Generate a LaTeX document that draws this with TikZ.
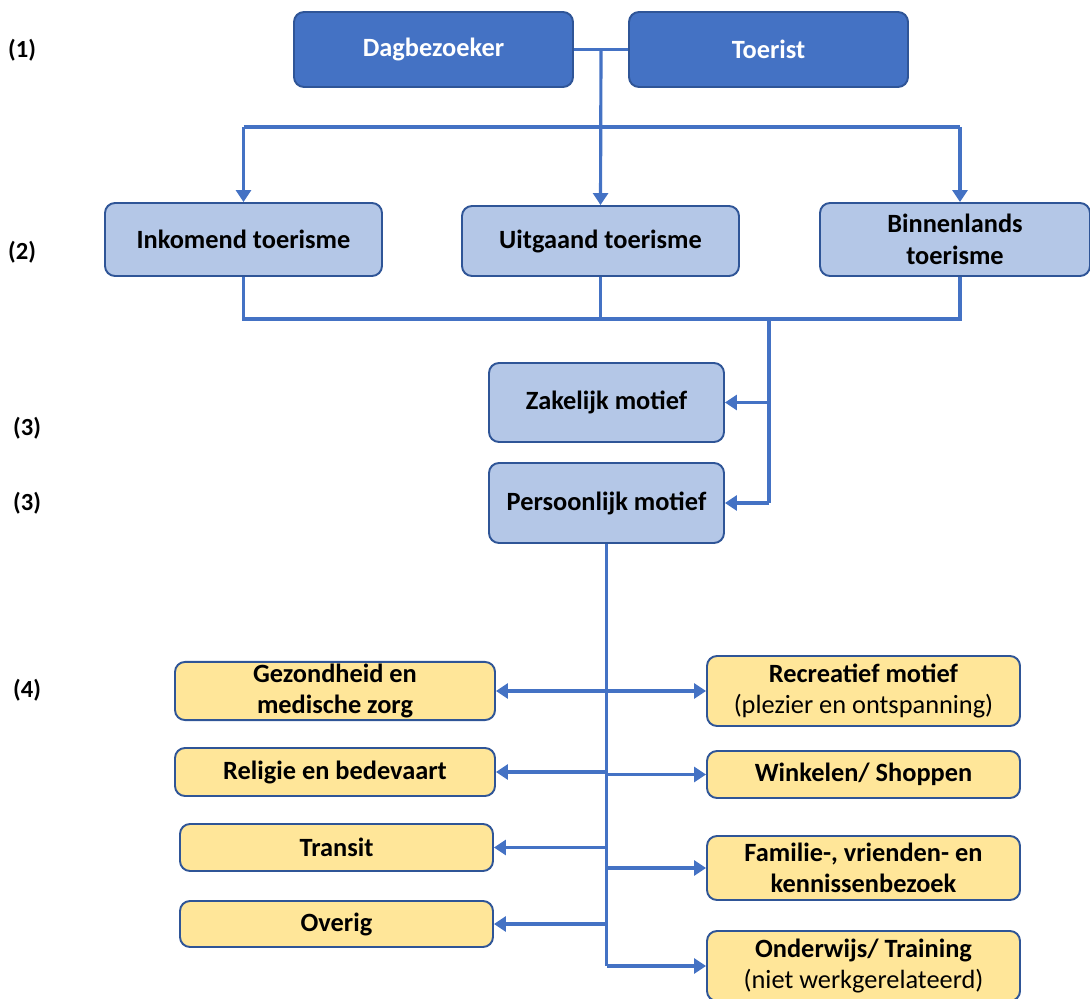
\documentclass[tikz,border=0pt]{standalone}
\usepackage{fontspec}
\setmainfont{Carlito}
\usetikzlibrary{arrows.meta,positioning}

\definecolor{topfill}{HTML}{4472C4}
\definecolor{midfill}{HTML}{B4C7E7}
\definecolor{lowfill}{HTML}{FFE699}
\definecolor{rim}{HTML}{2F5597}
\definecolor{wire}{HTML}{4472C4}

\begin{document}
\begin{tikzpicture}[x=0.2mm,y=-0.2mm,
  box/.style={draw=rim,line width=1.1pt,rounded corners=2mm,align=center,
    font=\fontsize{15}{18}\selectfont\bfseries,inner sep=1pt},
  topbox/.style={box,fill=topfill,text=white,minimum width=55.8mm,minimum height=15mm},
  midbox/.style={box,fill=midfill,minimum height=14.6mm},
  lowbox/.style={box,fill=lowfill,minimum width=62.6mm},
  level/.style={font=\fontsize{14}{16}\selectfont\bfseries},
  link/.style={draw=wire,line width=1.8pt},
  arrow/.style={link,-{Triangle[width=3mm,length=2.4mm]}}]
\useasboundingbox (0,0) rectangle (1090,999);

% level 1
\node[topbox] (dag) at (433.5,49.5) {Dagbezoeker};
\node[topbox] (toer) at (768.5,49.5) {Toerist};

% level 2
\node[midbox,minimum width=55.4mm] (ink) at (243.5,239.5) {Inkomend toerisme};
\node[midbox,minimum width=55.4mm,minimum height=14mm] (uit) at (600.5,241) {Uitgaand toerisme};
\node[midbox,minimum width=54mm] (bin) at (955,239.5) {Binnenlands\\toerisme};

% level 3
\node[midbox,minimum width=47mm,minimum height=15.8mm] (zak) at (606.5,402.5) {Zakelijk motief};
\node[midbox,minimum width=47mm,minimum height=16mm] (pers) at (606.5,503) {Persoonlijk motief};

% level 4, left
\node[lowbox,minimum width=64mm,minimum height=11.6mm] (gez) at (335,691) {Gezondheid en\\medische zorg};
\node[lowbox,minimum width=64mm,minimum height=9.6mm] (rel) at (335,772) {Religie en bedevaart};
\node[lowbox,minimum height=9.4mm] (tra) at (336.5,847.5) {Transit};
\node[lowbox,minimum height=9.2mm] (ove) at (336.5,924) {Overig};

% level 4, right
\node[lowbox,minimum height=14mm] (rec) at (863.5,691) {Recreatief motief\\\mdseries(plezier en ontspanning)};
\node[lowbox,minimum height=9.4mm] (win) at (863.5,774.5) {Winkelen/ Shoppen};
\node[lowbox,minimum height=12.8mm] (fam) at (863.5,868) {Familie-, vrienden- en\\kennissenbezoek};
\node[lowbox,minimum height=14mm] (ond) at (863.5,966) {Onderwijs/ Training\\\mdseries(niet werkgerelateerd)};

% level labels
\node[level] (l1) at (22,50) {(1)};
\node[level] (l2) at (22,252) {(2)};
\node[level] (l3a) at (27,428) {(3)};
\node[level] (l3b) at (27,503) {(3)};
\node[level] (l4) at (27,690) {(4)};

% connectors top
\coordinate (join) at (601,50);
\coordinate (bus) at (601,127);
\coordinate (binx) at (960,127);
\coordinate (bus2) at (769,319);
\path[link] (dag.east) -- (toer.west);
\draw[arrow] (join) -- (uit.north);
\path[link] (ink.north |- bus) -- (binx);
\draw[arrow] (ink.north |- bus) -- (ink.north);
\draw[arrow] (binx) -- (binx |- bin.north);

% connectors middle
\path[link] (ink.south) -- (ink.south |- bus2) -- (binx |- bus2) -- (binx |- bin.south);
\path[link] (uit.south) -- (uit.south |- bus2);
\path[link] (bus2) -- (bus2 |- pers.east);
\draw[arrow] (bus2 |- zak.east) -- (zak.east);
\draw[arrow] (bus2 |- pers.east) -- (pers.east);

% connectors bottom
\path[link] (pers.south) -- (pers.south |- ond.west);
\foreach \t in {gez,rel,tra,ove}
  \draw[arrow] (pers.south |- \t.east) -- (\t.east);
\foreach \t in {rec,win,fam,ond}
  \draw[arrow] (pers.south |- \t.west) -- (\t.west);
\end{tikzpicture}
\end{document}
